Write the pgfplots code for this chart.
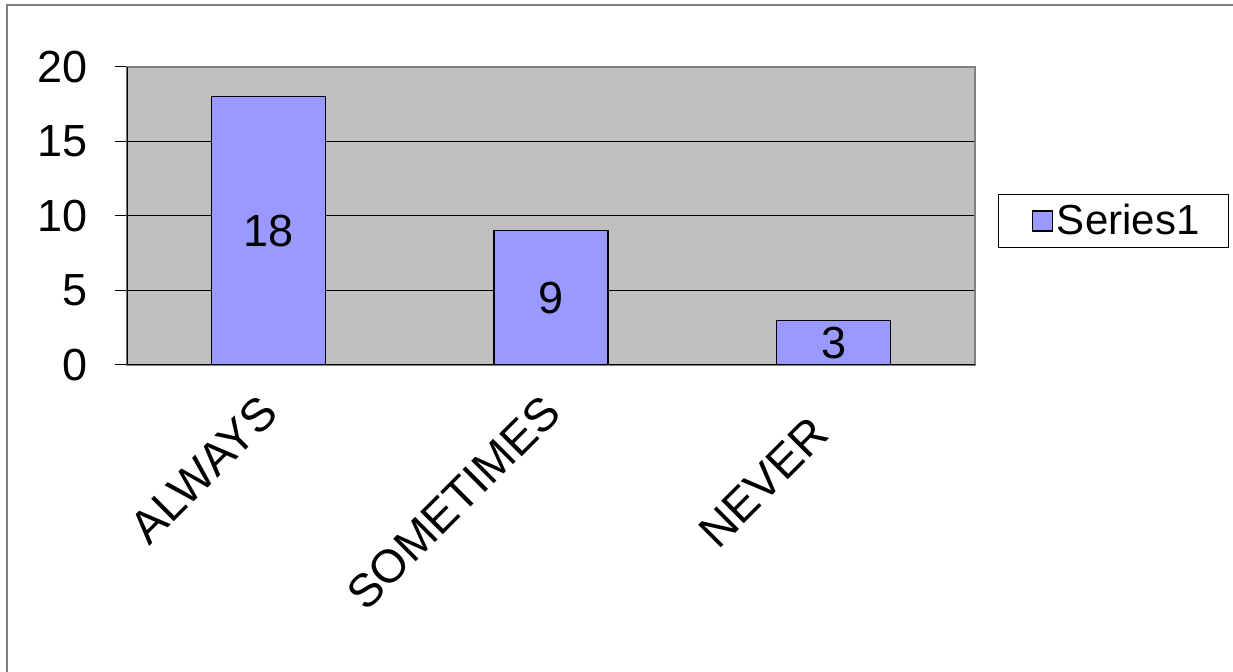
\documentclass[border=0pt]{standalone}
\usepackage{pgfplots}
\pgfplotsset{compat=1.18}
\usepackage{pgfplotstable}
\usepackage{fontspec}
\setmainfont{Liberation Sans}

\definecolor{barblue}{HTML}{9999FF}
\definecolor{plotgray}{HTML}{C0C0C0}
\definecolor{framegray}{HTML}{808080}

\pgfplotstableread{
x y
1 18
2 9
3 3
}\answers

\begin{document}
\begin{tikzpicture}
\useasboundingbox (0,0) rectangle (616.5pt,336pt);
% chart frame
\draw[framegray, line width=1pt] (3.5pt,0pt) -- (3.5pt,333.5pt) -- (616.5pt,333.5pt);
\begin{axis}[
  at={(63.5pt,153.5pt)}, anchor=south west,
  scale only axis,
  width=424pt, height=149pt,
  xmin=0.5, xmax=3.5,
  ymin=0, ymax=20,
  ytick={0,5,10,15,20},
  ytick pos=left,
  xtick pos=bottom,
  xtick={1,2,3},
  xticklabels={ALWAYS,SOMETIMES,{\raisebox{-2.85pt}[\height][\depth]{NEVER}\rule{12.75pt}{0pt}}},
  extra x ticks={0.5,1.5,2.5,3.5},
  extra x tick labels={},
  extra x tick style={grid=none, major tick length=6.5pt},
  x tick style={draw=none},
  y tick style={black, line width=0.5pt},
  extra x tick style={tick style={draw=black, line width=0.5pt}},
  major tick length=6pt,
  tick align=outside,
  ymajorgrids,
  grid style={black, line width=0.5pt},
  axis background/.style={fill=plotgray},
  axis line style={framegray, line width=1pt},
  tick label style={font=\fontsize{22.5}{27}\selectfont, /pgf/number format/assume math mode=true},
  yticklabel style={xshift=-10pt},
  xticklabel style={font=\fontsize{23.2}{28}\selectfont, rotate=45, anchor=north east, inner sep=0pt, xshift=-9.2pt, yshift=-1.4pt},
  legend style={at={(axis description cs:1.027,0.483)}, anchor=west,
    draw=black, fill=white, line width=0.5pt,
    font=\fontsize{21}{25}\selectfont,
    inner xsep=12.5pt, inner ysep=3pt},
  legend cell align=left,
  legend image code/.code={%
    \path[draw=none, fill=none] (0pt,0pt) rectangle (4.5pt,0.1pt);
    \draw[#1, line width=0.6pt] (4.5pt,-5pt) rectangle (14.5pt,5pt);},
]
\addplot[ybar, bar width=57pt, fill=barblue, draw=black, line width=0.6pt] table[x=x, y=y] {\answers};
\addlegendentry{Series1}
% value labels centred inside each bar
\addplot[forget plot, draw=none, mark=none,
  nodes near coords, point meta=\thisrow{y},
  every node near coord/.style={anchor=center, font=\fontsize{22.5}{27}\selectfont,
    /pgf/number format/assume math mode=true}]
  table[x=x, y expr=\thisrow{y}/2] {\answers};
% solid left and bottom axis lines
\draw[black, line width=0.6pt] (rel axis cs:0,1) -- (rel axis cs:0,0) -- (rel axis cs:1,0);
\end{axis}
\end{tikzpicture}
\end{document}
